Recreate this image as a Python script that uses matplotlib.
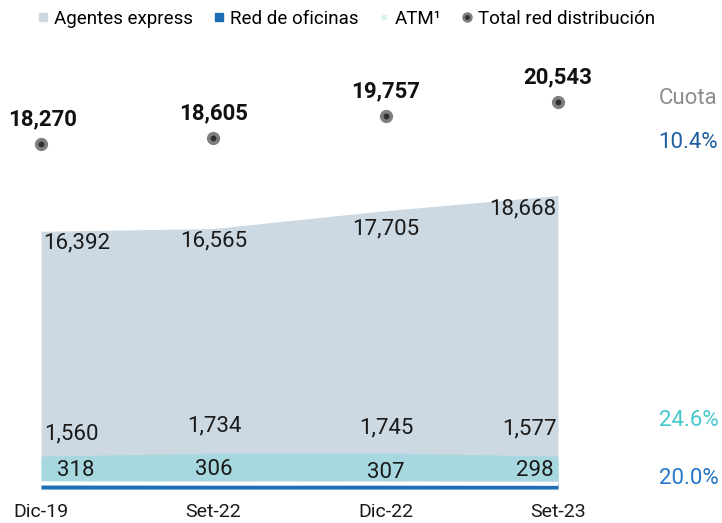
import numpy as np
import matplotlib
matplotlib.use("Agg")
from matplotlib import pyplot as plt
from matplotlib.lines import Line2D

plt.rcParams["font.family"] = ["Roboto", "DejaVu Sans"]

# data
periods = ["Dic-19", "Set-22", "Dic-22", "Set-23"]
agentes = [16392, 16565, 17705, 18668]
atm = [1560, 1734, 1745, 1577]
oficinas = [318, 306, 307, 298]
totals = [18270, 18605, 19757, 20543]
cuota_labels = ["10.4%", "24.6%", "20.0%"]

c_agentes = "#CCD9E3"
c_atm = "#A8D8DF"
c_oficinas = "#1F6DB6"
c_atm_legend = "#D6F2F2"
c_text = "#1a1a1a"
weight = "normal"

W, H = 722, 523
fig = plt.figure(figsize=(W / 100, H / 100), dpi=100)


def frac(left, top, right, bottom):
    # pixel box -> figure fraction
    return [left / W, 1 - bottom / H, (right - left) / W, (bottom - top) / H]


x = np.arange(len(periods))
bot = np.array(oficinas)
mid = bot + np.array(atm)

# main area: agentes express
ax = fig.add_axes(frac(41, 40, 558, 489))
ax.fill_between(x, 0, agentes, color=c_agentes, linewidth=0)
ax.set_xlim(0, 3)
ax.set_ylim(0, 449 * 63.6)
ax.set_yticks([])
ax.set_xticks(x, periods, fontsize=14, fontweight=weight, color=c_text)
ax.tick_params(axis="x", length=0, pad=10)
for s in ax.spines.values():
    s.set_visible(False)

ha_list = ["left", "center", "center", "right"]
dx_list = [2, 0, 0, -2]
top_dy = [-12, -12, -18, -13]
for i, v in enumerate(agentes):
    ax.annotate(f"{v:,}", (x[i], v), xytext=(dx_list[i], top_dy[i]),
                textcoords="offset pixels", ha=ha_list[i], va="center",
                fontsize=16, fontweight=weight, color=c_text)

# bottom strip: red de oficinas + ATM
axb = fig.add_axes(frac(41, 450, 558, 489))
axb.set_facecolor("white")
axb.fill_between(x, 0, bot, color=c_oficinas, linewidth=0)
axb.fill_between(x, bot, mid, color=c_atm, linewidth=0)
axb.plot(x, bot, color="white", linewidth=3, solid_capstyle="butt")
axb.set_xlim(0, 3)
axb.set_ylim(0, 39 * 57)
axb.axis("off")

atm_dy = [22, 27, 25, 27]
of_dy = [13, 14, 11, 13]
of_dx = [16, 0, 0, -4]
for i in range(len(periods)):
    axb.annotate(f"{atm[i]:,}", (x[i], mid[i]), xytext=(dx_list[i] + 1, atm_dy[i]),
                 textcoords="offset pixels", ha=ha_list[i], va="center",
                 fontsize=16, fontweight=weight, color=c_text,
                 annotation_clip=False)
    axb.annotate(f"{oficinas[i]:,}", (x[i], bot[i]), xytext=(of_dx[i], of_dy[i]),
                 textcoords="offset pixels", ha=ha_list[i], va="center",
                 fontsize=16, fontweight=weight, color=c_text,
                 annotation_clip=False)

# total dots on their own scale
axd = fig.add_axes(frac(41, 40, 558, 489))
axd.patch.set_alpha(0)
axd.plot(x, totals, linestyle="none", marker="o", markersize=6.9,
         markerfacecolor="#303030", markeredgecolor="#7f7f7f", markeredgewidth=2.6,
         clip_on=False)
axd.set_xlim(0, 3)
axd.set_ylim(-285, 23871)
axd.axis("off")
for i, v in enumerate(totals):
    axd.annotate(f"{v:,}", (x[i], v), xytext=(2 if i == 0 else 0, 25),
                 textcoords="offset pixels", ha="center", va="center",
                 fontsize=16, fontweight="bold", color="#111111",
                 annotation_clip=False)

# cuota column
fig.text(717 / W, 1 - 98 / H, "Cuota", ha="right", va="center",
         fontsize=16, fontweight=weight, color="#8c8c8c")
fig.text(718 / W, 1 - 142 / H, cuota_labels[0], ha="right", va="center",
         fontsize=16, fontweight=weight, color="#1D5F9F")
fig.text(719 / W, 1 - 421 / H, cuota_labels[1], ha="right", va="center",
         fontsize=16, fontweight=weight, color="#45C8CC")
fig.text(719 / W, 1 - 479 / H, cuota_labels[2], ha="right", va="center",
         fontsize=16, fontweight=weight, color="#2677C4")

# legend
handles = [
    Line2D([], [], marker="s", linestyle="none", color=c_agentes, markersize=6),
    Line2D([], [], marker="s", linestyle="none", color=c_oficinas, markersize=6),
    Line2D([], [], marker="s", linestyle="none", color=c_atm_legend, markersize=2.5),
    Line2D([], [], marker="o", linestyle="none", markersize=5.5,
           markerfacecolor="#303030", markeredgecolor="#7f7f7f", markeredgewidth=2),
]
labels = ["Agentes express", "Red de oficinas", "ATM\u00b9", "Total red distribución"]
fig.legend(handles, labels, loc="center left", bbox_to_anchor=(30 / W, 1 - 19 / H),
           ncol=4, frameon=False, handlelength=0.6,
           handletextpad=0.3, columnspacing=1.05, borderaxespad=0,
           prop={"weight": weight, "size": 13.5})

fig.savefig("out.png", dpi=100)
